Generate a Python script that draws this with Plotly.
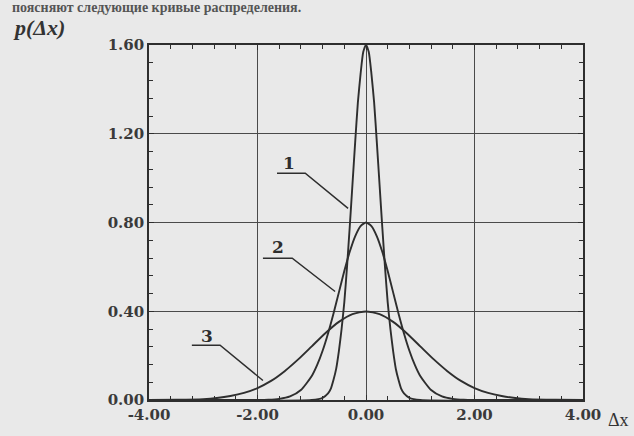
import plotly.graph_objects as go

# ---- data ----
x1 = [-4.0, -1.0, -0.8, -0.7, -0.65, -0.6, -0.55, -0.5, -0.45, -0.4, -0.35, -0.3, -0.25, -0.2, -0.15, -0.1, -0.05, 0.0,
      0.05, 0.1, 0.15, 0.2, 0.25, 0.3, 0.35, 0.4, 0.45, 0.5, 0.55, 0.6, 0.65, 0.7, 0.8, 1.0, 4.0]
y1 = [0.0, 0.0, 0.01, 0.03, 0.05, 0.09, 0.14, 0.22, 0.32, 0.44, 0.60, 0.78, 0.97, 1.16, 1.34, 1.47, 1.57, 1.60,
      1.57, 1.47, 1.34, 1.16, 0.97, 0.78, 0.60, 0.44, 0.32, 0.22, 0.14, 0.09, 0.05, 0.03, 0.01, 0.0, 0.0]

x2 = [-4.0, -2.0, -1.8, -1.6, -1.4, -1.2, -1.0, -0.9, -0.8, -0.7, -0.6, -0.5, -0.4, -0.3, -0.2, -0.1, 0.0,
      0.1, 0.2, 0.3, 0.4, 0.5, 0.6, 0.7, 0.8, 0.9, 1.0, 1.2, 1.4, 1.6, 1.8, 2.0, 4.0]
y2 = [0.0, 0.0, 0.001, 0.005, 0.016, 0.045, 0.108, 0.158, 0.222, 0.300, 0.389, 0.485, 0.581, 0.668, 0.738, 0.784, 0.80,
      0.784, 0.738, 0.668, 0.581, 0.485, 0.389, 0.300, 0.222, 0.158, 0.108, 0.045, 0.016, 0.005, 0.001, 0.0, 0.0]

x3 = [-4.0, -3.5, -3.0, -2.75, -2.5, -2.25, -2.0, -1.75, -1.5, -1.25, -1.0, -0.75, -0.5, -0.25, 0.0,
      0.25, 0.5, 0.75, 1.0, 1.25, 1.5, 1.75, 2.0, 2.25, 2.5, 2.75, 3.0, 3.5, 4.0]
y3 = [0.0, 0.001, 0.004, 0.009, 0.018, 0.032, 0.054, 0.086, 0.130, 0.183, 0.242, 0.301, 0.352, 0.387, 0.399,
      0.387, 0.352, 0.301, 0.242, 0.183, 0.130, 0.086, 0.054, 0.032, 0.018, 0.009, 0.004, 0.001, 0.0]

curve_names = ["1", "2", "3"]
x_tickvals = [-4, -2, 0, 2, 4]
x_ticktext = ["-4.00", "-2.00", "0.00", "2.00", "4.00"]
y_tickvals = [0, 0.4, 0.8, 1.2, 1.6]
y_ticktext = ["0.00", "0.40", "0.80", "1.20", "1.60"]

# ---- styling ----
BG = "#e9e9e9"
INK = "#2e2e2e"
GRID = "#4a4a4a"
TICKFONT = dict(family="DejaVu Serif", size=15, color="#3a3a3a", weight="bold")

fig = go.Figure()
for xs, ys, nm in zip([x1, x2, x3], [y1, y2, y3], curve_names):
    fig.add_trace(go.Scatter(x=xs, y=ys, mode="lines", name=nm,
                             line=dict(color=INK, width=1.9, shape="spline", smoothing=0.6),
                             hoverinfo="skip", showlegend=False))
# invisible copy on the overlay axes that carry the small ticks
fig.add_trace(go.Scatter(x=x3, y=y3, xaxis="x2", yaxis="y2", mode="lines", opacity=0,
                         line=dict(color=INK, width=1),
                         showlegend=False, hoverinfo="skip"))

axis_common = dict(showline=True, linecolor=INK, linewidth=1.6, mirror="ticks",
                   ticks="inside", ticklen=5, tickwidth=1.4, tickcolor=INK,
                   showgrid=True, gridcolor=GRID, gridwidth=1.3, zeroline=False,
                   tickfont=TICKFONT)
small_ticks = dict(showticklabels=False, showgrid=False, zeroline=False,
                   showline=True, linecolor=INK, linewidth=1.6, mirror="ticks",
                   ticks="inside", ticklen=4, tickwidth=1.2, tickcolor=INK, tickmode="linear")

fig.update_layout(
    xaxis=dict(range=[-4, 4], tickmode="array", tickvals=x_tickvals, ticktext=x_ticktext, **axis_common),
    yaxis=dict(range=[0, 1.6], tickmode="array", tickvals=y_tickvals, ticktext=y_ticktext, **axis_common),
    xaxis2=dict(range=[-4, 4], overlaying="x", side="bottom", tick0=-4, dtick=0.4, **small_ticks),
    yaxis2=dict(range=[0, 1.6], overlaying="y", side="left", tick0=0, dtick=0.08, **small_ticks),
)

# leader labels: (label x, label y, underline x0, x1, underline y, end x, end y)
leaders = [
    ("1", -1.42, 1.07, -1.64, -1.12, 1.022, -0.33, 0.864),
    ("2", -1.62, 0.69, -1.90, -1.36, 0.639, -0.57, 0.489),
    ("3", -2.93, 0.29, -3.21, -2.69, 0.247, -1.90, 0.088),
]
for txt, tx, ty, ux0, ux1, uy, ex, ey in leaders:
    fig.add_annotation(x=tx, y=ty, text=txt, showarrow=False, xref="x", yref="y",
                       font=dict(family="DejaVu Serif", size=17, color=INK, weight="bold"))
    fig.add_shape(type="path", xref="x", yref="y",
                  path=f"M {ux0},{uy} L {ux1},{uy} L {ex},{ey}",
                  line=dict(color=INK, width=1.5))

fig.add_annotation(xref="paper", yref="paper", x=-0.318, y=1.05, xanchor="left", yanchor="middle",
                   text="<i>p(Δx)</i>", showarrow=False,
                   font=dict(family="Liberation Serif", size=22, color="#333333", weight="bold"))
fig.add_annotation(xref="paper", yref="paper", x=1.11, y=-0.055, xanchor="right", yanchor="middle",
                   text="Δx", showarrow=False,
                   font=dict(family="Liberation Serif", size=18, color="#333333"))
fig.add_annotation(xref="paper", yref="paper", x=-0.32, y=1.107, xanchor="left", yanchor="middle",
                   text="поясняют следующие кривые распределения.", showarrow=False,
                   font=dict(family="Liberation Serif", size=14, color="#555555", weight="bold"))

fig.update_layout(width=634, height=436, margin=dict(l=149, r=51, t=45, b=28),
                  plot_bgcolor=BG, paper_bgcolor=BG, showlegend=False)

fig.write_html("out.html", config={"displayModeBar": False},
               post_script="document.body.style.margin='0';document.body.style.background='#e9e9e9';")
